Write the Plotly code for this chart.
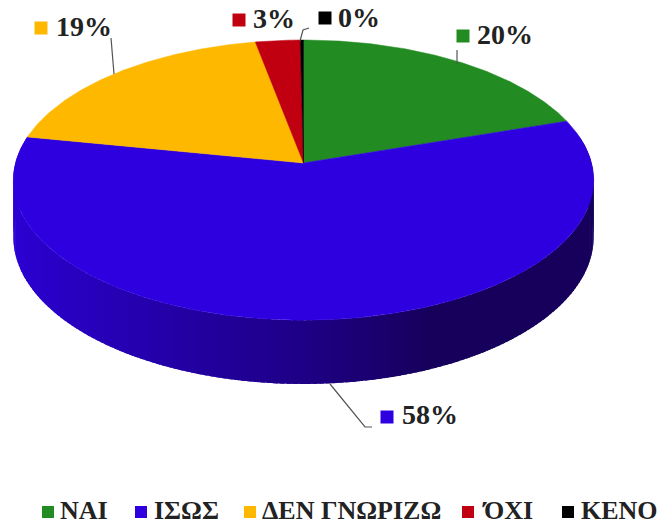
import numpy as np
import plotly.graph_objects as go

categories = ["ΝΑΙ", "ΙΣΩΣ", "ΔΕΝ ΓΝΩΡΙΖΩ", "ΌΧΙ", "ΚΕΝΟ"]
values = [19.9, 58.2, 18.9, 2.8, 0.2]
colors = ["#228B22", "#2E00E0", "#FFB800", "#C00010", "#000000"]

# placement of the percentage labels and the legend
label_marker_xy = [(463, 36), (387, 417), (41, 28), (239, 20), (325, 18)]
label_text_x = [477, 402, 56, 253, 338]
label_text_y = [37, 417, 29, 21, 20]
legend_marker_x = [48, 141, 250, 468, 568]
legend_text_x = [60, 154, 262, 484, 581]
legend_y = 512
leaders = [
    [(457, 50), (457, 64)],
    [(330, 384), (365, 427), (372, 427)],
    [(111, 38), (114, 74)],
    [],
    [(309, 28), (303, 30), (300, 41)],
]

CX, CY, RX, RY, K, DEPTH = 303.5, 163, 288, 138, 0.122, 56
FONT = "Liberation Serif"
TEXT = "#222222"


def project(theta, depth=0.0):
    X, Y = np.sin(theta), np.cos(theta)
    d = 1 + K * Y
    return CX + RX * X / d, CY - RY * Y / d + depth / d


def mix(c1, c2, t):
    return "rgb(%d,%d,%d)" % tuple(round(a + (b - a) * t) for a, b in zip(c1, c2))


total = sum(values)
edges = np.concatenate([[0], np.cumsum(values)]) / total * 2 * np.pi

fig = go.Figure()

# side wall of the disc, shaded from left to right
wall = [(44, 0, 214), (30, 0, 135), (22, 0, 92)]
for i, v in enumerate(values):
    a0, a1 = edges[i], edges[i + 1]
    n = max(2, int((a1 - a0) / 0.02))
    th = np.linspace(a0, a1, n + 1)
    for j in range(n - 1, -1, -1):
        mid = (th[j] + th[j + 1]) / 2
        if np.cos(mid) > 0.2:
            continue
        tt = np.linspace(th[j], min(th[j + 1] + 0.015, a1), 4)
        xa, ya = project(tt)
        xb, yb = project(tt[::-1], DEPTH)
        s = (np.sin(mid) + 1) / 2
        if i == 1:
            if s < 0.5:
                col = mix(wall[0], wall[1], s * 2)
            else:
                col = mix(wall[1], wall[2], min(1, (s - 0.5) / 0.2))
        else:
            col = colors[i]
        fig.add_trace(go.Scatter(
            x=np.r_[xa, xb, xa[0]], y=np.r_[ya, yb, ya[0]], mode="lines",
            fill="toself", fillcolor=col, line=dict(width=0),
            hoverinfo="skip", showlegend=False))

# top surface
for i, v in enumerate(values):
    th = np.linspace(edges[i], edges[i + 1], max(3, int(v * 6)))
    x, y = project(th)
    fig.add_trace(go.Scatter(
        x=np.r_[CX, x, CX], y=np.r_[CY, y, CY], mode="lines", fill="toself",
        fillcolor=colors[i], line=dict(color=colors[i], width=0.5),
        name=categories[i], showlegend=False))

# leader lines
for pts in leaders:
    if pts:
        fig.add_trace(go.Scatter(
            x=[p[0] for p in pts], y=[p[1] for p in pts], mode="lines",
            line=dict(color="#555555", width=1.2), hoverinfo="skip", showlegend=False))

# percentage labels
for i, v in enumerate(values):
    mx, my = label_marker_xy[i]
    fig.add_trace(go.Scatter(
        x=[mx], y=[my], mode="markers",
        marker=dict(symbol="square", size=13, color=colors[i]),
        hoverinfo="skip", showlegend=False))
    fig.add_trace(go.Scatter(
        x=[label_text_x[i]], y=[label_text_y[i]], mode="text",
        text=["<b>%d%%</b>" % round(v)], textposition="middle right",
        textfont=dict(family=FONT, size=28, color=TEXT),
        hoverinfo="skip", showlegend=False))

# legend
for i, c in enumerate(categories):
    fig.add_trace(go.Scatter(
        x=[legend_marker_x[i]], y=[legend_y], mode="markers",
        marker=dict(symbol="square", size=12, color=colors[i]),
        hoverinfo="skip", showlegend=False))
    fig.add_trace(go.Scatter(
        x=[legend_text_x[i]], y=[legend_y], mode="text",
        text=["<b>%s</b>" % c], textposition="middle right",
        textfont=dict(family=FONT, size=26, color=TEXT),
        hoverinfo="skip", showlegend=False))

fig.update_layout(
    width=660, height=527, margin=dict(l=0, r=0, t=0, b=0),
    paper_bgcolor="white", plot_bgcolor="white",
    xaxis=dict(range=[0, 660], visible=False, fixedrange=True),
    yaxis=dict(range=[527, 0], visible=False, fixedrange=True),
    showlegend=False,
)
fig.write_html(
    "out.html",
    config={"displayModeBar": False},
    post_script="document.body.style.margin='0';document.body.style.overflow='hidden';",
)
